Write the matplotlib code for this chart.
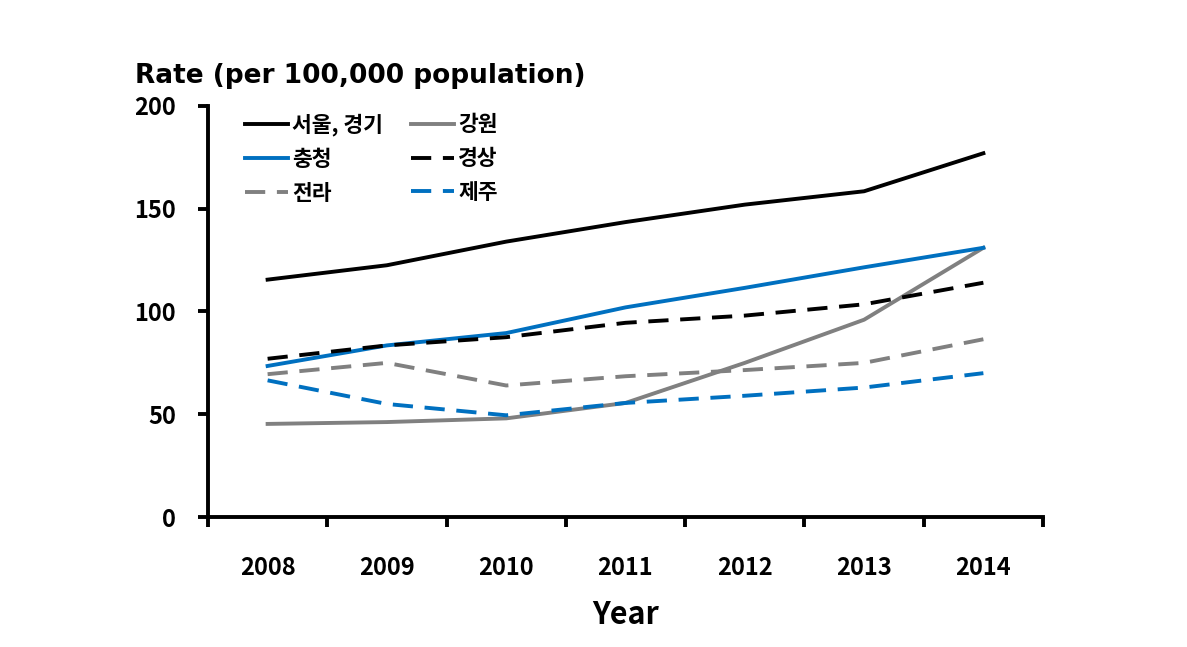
import numpy as np
import matplotlib.pyplot as plt

plt.rcParams['font.family'] = ['Noto Sans CJK KR', 'DejaVu Sans']
plt.rcParams['font.weight'] = 'bold'

years = ['2008', '2009', '2010', '2011', '2012', '2013', '2014']
seoul = [115.5, 122.5, 134, 143.5, 152, 158.5, 177]
gangwon = [45.3, 46.2, 48, 55.5, 75, 96, 131]
chungcheong = [73.5, 83.5, 89.5, 102, 111.5, 121.5, 131]
gyeongsang = [77, 83.5, 87.5, 94.5, 98, 103.5, 114]
jeolla = [69.5, 75, 64, 68.5, 71.5, 75, 86.5]
jeju = [66.5, 55, 49.5, 55.5, 59, 63, 70]

blue = '#0070C0'
gray = '#808080'

fig = plt.figure(figsize=(11.87, 6.47), dpi=100)
ax = fig.add_axes([0.1752, 0.2009, 0.7035, 0.6353])

x = np.arange(len(years))
lw = 2.8
dash = (5.2, 3.0)
l1, = ax.plot(x, seoul, color='black', lw=lw, label='서울, 경기')
l2, = ax.plot(x, gangwon, color=gray, lw=lw, label='강원')
l3, = ax.plot(x, chungcheong, color=blue, lw=lw, label='충청')
l4, = ax.plot(x, gyeongsang, color='black', lw=lw, dashes=dash, label='경상')
l5, = ax.plot(x, jeolla, color=gray, lw=lw, dashes=dash, label='전라')
l6, = ax.plot(x, jeju, color=blue, lw=lw, dashes=dash, label='제주')

ax.set_xlim(-0.5, 6.5)
ax.set_ylim(0, 200)
ax.set_yticks([0, 50, 100, 150, 200])
# ticks sit between the years, labels in the middle
ax.set_xticks(np.arange(-0.5, 7, 1))
ax.set_xticklabels([])
ax.set_xticks(x, minor=True)
ax.set_xticklabels(years, minor=True)
ax.tick_params(axis='x', which='minor', length=0, pad=28, labelsize=17)
ax.tick_params(axis='x', which='major', direction='out', length=7, width=2.8)
ax.tick_params(axis='y', direction='out', length=7, width=2.8, labelsize=17, pad=16)
for s in ['top', 'right']:
    ax.spines[s].set_visible(False)
for s in ['left', 'bottom']:
    ax.spines[s].set_linewidth(2.8)

ax.set_xlabel('Year', fontsize=22, fontweight='bold', labelpad=14)
fig.text(0.114, 0.882, 'Rate (per 100,000 population)', fontsize=19, fontweight='bold',
         family='DejaVu Sans', va='center')

ax.legend(handles=[l1, l3, l5, l2, l4, l6], ncol=2, loc='upper left', frameon=False,
          fontsize=15.5, handlelength=2.0, handletextpad=0.2, columnspacing=1.3,
          labelspacing=0.6, borderpad=0, borderaxespad=0, bbox_to_anchor=(0.044, 0.983))

fig.savefig('out.png', dpi=100)
